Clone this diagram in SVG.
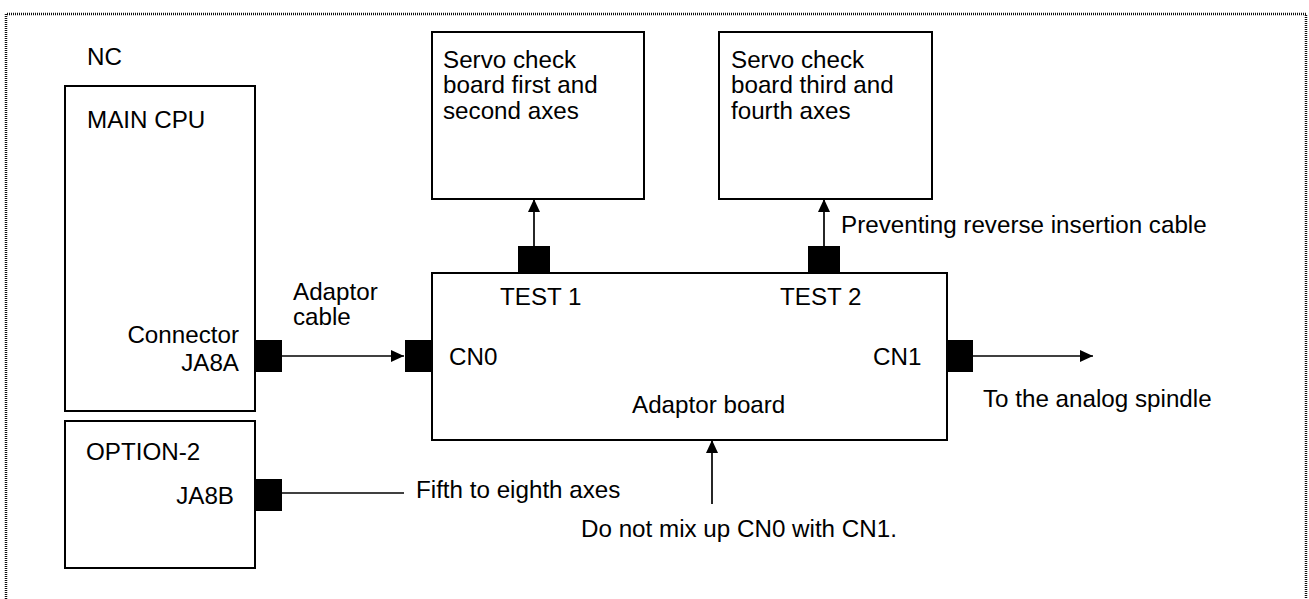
<svg xmlns="http://www.w3.org/2000/svg" width="1309" height="599" viewBox="0 0 1309 599">
  <style>
    .box { fill: #fff; stroke: #000; stroke-width: 2; }
    .plug { fill: #000; stroke: none; }
    .wire { fill: none; stroke: #000; stroke-width: 1.7; }
    .frame { fill: none; stroke: #111; stroke-width: 2.5; stroke-dasharray: 1 1; }
    text { font-family: "Liberation Sans", Arial, sans-serif; font-size: 24.2px; fill: #000; }
    .end { text-anchor: end; }
  </style>
  <defs>
    <marker id="arrow" markerUnits="userSpaceOnUse" markerWidth="14" markerHeight="14" viewBox="0 0 14 14" refX="13" refY="7" orient="auto">
      <path d="M0,1 L13,7 L0,13 Z" fill="#000"/>
    </marker>
  </defs>

  <rect width="1309" height="599" fill="#fff"/>

  <!-- NC enclosure (dotted) -->
  <path class="frame" d="M6,599 V14 H1306 V599"/>
  <text x="87" y="65">NC</text>

  <g id="main-cpu">
    <rect class="box" x="65" y="86" width="190" height="325"/>
    <text x="87" y="128">MAIN CPU</text>
    <text class="end" x="239" y="343">Connector</text>
    <text class="end" x="239" y="371">JA8A</text>
    <rect class="plug" x="255" y="340" width="27" height="32"/>
  </g>

  <g id="option-2">
    <rect class="box" x="65" y="421" width="190" height="147"/>
    <text x="86" y="460">OPTION-2</text>
    <text class="end" x="234" y="504">JA8B</text>
    <rect class="plug" x="255" y="479" width="27" height="32"/>
  </g>

  <g id="servo-1-2">
    <rect class="box" x="432" y="32" width="212" height="167"/>
    <text x="443" y="68">Servo check</text>
    <text x="443" y="93">board first and</text>
    <text x="443" y="119">second axes</text>
  </g>

  <g id="servo-3-4">
    <rect class="box" x="719" y="32" width="213" height="167"/>
    <text x="731" y="68">Servo check</text>
    <text x="731" y="93">board third and</text>
    <text x="731" y="119">fourth axes</text>
  </g>

  <g id="adaptor-board">
    <rect class="box" x="432" y="273" width="515" height="167"/>
    <rect class="plug" x="518" y="246" width="32" height="27"/>
    <rect class="plug" x="808" y="246" width="32" height="27"/>
    <rect class="plug" x="405" y="340" width="27" height="32"/>
    <rect class="plug" x="946" y="340" width="27" height="32"/>
    <text x="500" y="305">TEST 1</text>
    <text x="780" y="305">TEST 2</text>
    <text x="449" y="365">CN0</text>
    <text x="873" y="365">CN1</text>
    <text x="632" y="413">Adaptor board</text>
  </g>

  <g id="connectors">
    <line class="wire" x1="282" y1="356" x2="404" y2="356" marker-end="url(#arrow)"/>
    <line class="wire" x1="534" y1="246" x2="534" y2="199" marker-end="url(#arrow)"/>
    <line class="wire" x1="824" y1="246" x2="824" y2="199" marker-end="url(#arrow)"/>
    <line class="wire" x1="973" y1="356" x2="1093" y2="356" marker-end="url(#arrow)"/>
    <line class="wire" x1="712" y1="504" x2="712" y2="440" marker-end="url(#arrow)"/>
    <line class="wire" x1="282" y1="493" x2="404" y2="493"/>
  </g>

  <g id="labels">
    <text x="293" y="300">Adaptor</text>
    <text x="293" y="325">cable</text>
    <text x="841" y="233">Preventing reverse insertion cable</text>
    <text x="983" y="407">To the analog spindle</text>
    <text x="416" y="498">Fifth to eighth axes</text>
    <text x="581" y="537">Do not mix up CN0 with CN1.</text>
  </g>
</svg>
